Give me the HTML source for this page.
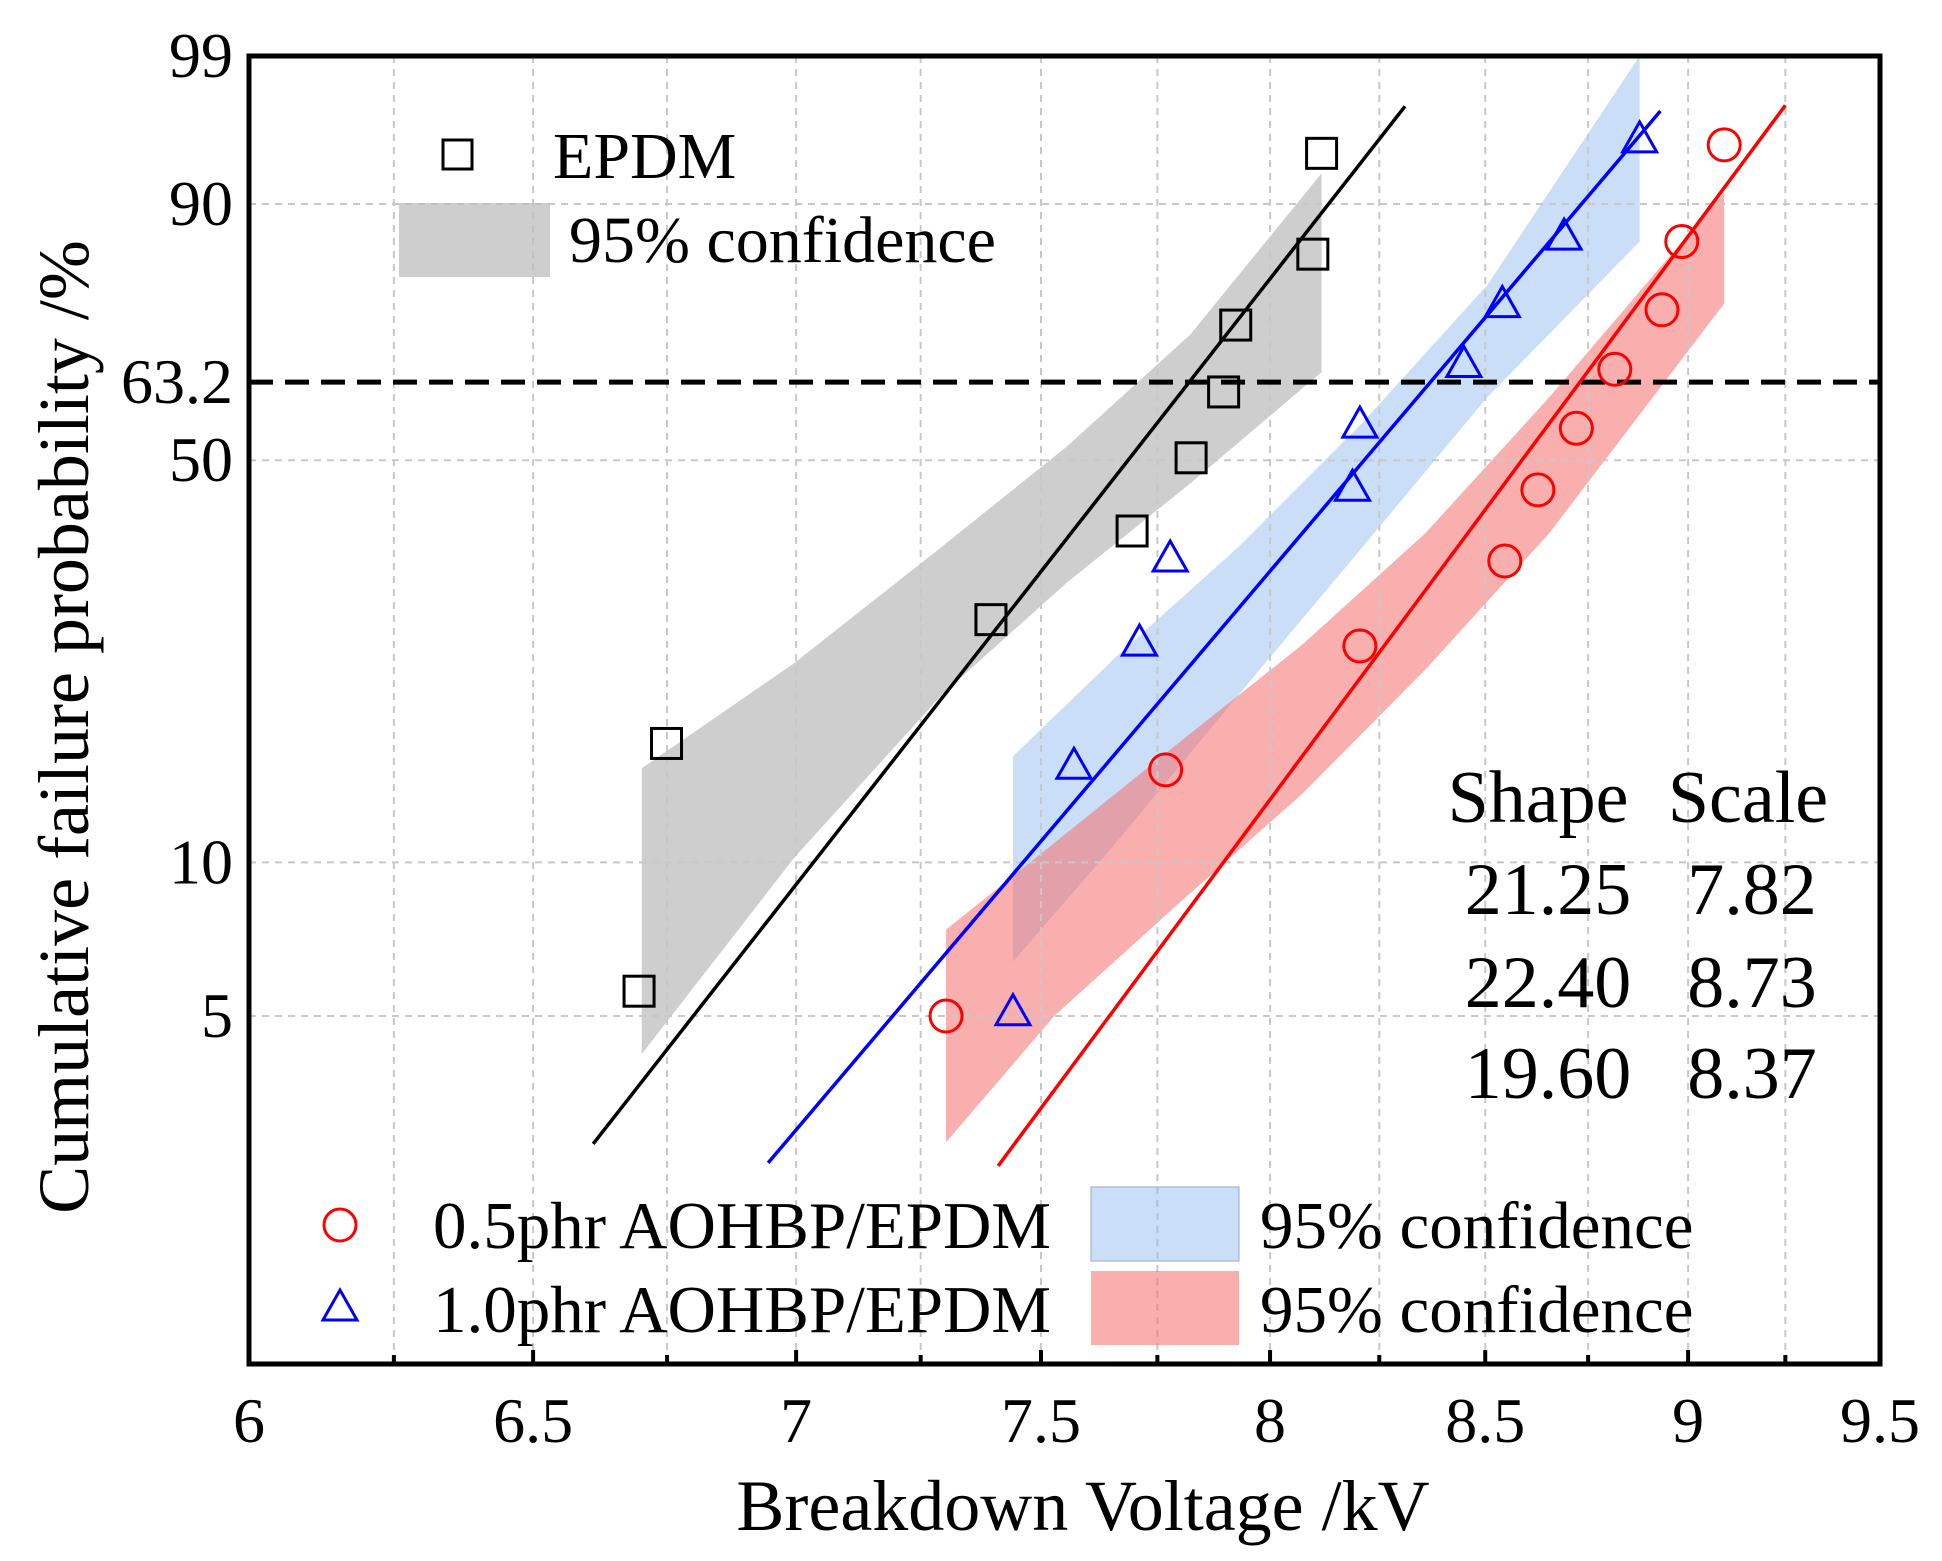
<!DOCTYPE html>
<html><head><meta charset="utf-8"><style>
html,body{margin:0;padding:0;background:#fff}
svg{display:block}
text{font-family:"Liberation Serif",serif;fill:#000}
</style></head><body>
<svg id="chart" width="1942" height="1561" viewBox="0 0 1942 1561" xmlns="http://www.w3.org/2000/svg">
<g id="bands"></g><g id="grid"></g><g id="lines"></g><g id="marks"></g><g id="axes"></g><g id="legend"></g>
</svg>
<script>
// ---- data ----
const xTicks = [6, 6.5, 7, 7.5, 8, 8.5, 9, 9.5];
const xTickLabels = ["6", "6.5", "7", "7.5", "8", "8.5", "9", "9.5"];
const yTicks = [5, 10, 50, 63.2, 90, 99];
const yTickLabels = ["5", "10", "50", "63.2", "90", "99"];
const epdmV = [6.697, 6.749, 7.395, 7.695, 7.824, 7.896, 7.923, 8.097, 8.117];
const epdmF = [5.6, 16.8, 28, 39.2, 50.4, 61.5, 72.9, 83.8, 94.6];
const p10V = [7.441, 7.570, 7.711, 7.778, 8.188, 8.205, 8.449, 8.541, 8.691, 8.878];
const p10F = [5.1, 15.3, 25.6, 35.5, 45.7, 56, 66.4, 76.4, 86.2, 95.6];
const p05V = [7.302, 7.768, 8.205, 8.547, 8.627, 8.721, 8.816, 8.934, 8.984, 9.092];
const p05F = [5.0, 15.0, 25.2, 35.1, 45.3, 55.3, 65.4, 75.4, 85.5, 95.2];
const fitShape = [21.25, 22.40, 19.60];
const fitScale = [7.82, 8.73, 8.37];
const fitVRange = [[6.611, 8.31], [7.41, 9.25], [6.945, 8.93]];
const grayBandV = [6.702, 6.996, 7.295, 7.554, 7.822, 8.117];
const grayBandUp = [15.1, 23.5, 37.1, 52.2, 71.3, 93.0];
const grayBandLo = [4.2, 10.2, 20.7, 32.3, 46.3, 64.9];
const blueBandV = [7.441, 7.66, 7.931, 8.213, 8.505, 8.878];
const blueBandUp = [15.9, 24.1, 37.1, 56.4, 79.3, 99.0];
const blueBandLo = [6.4, 10.9, 20.7, 37.1, 60.6, 85.5];
const redBandV = [7.302, 7.528, 7.795, 8.072, 8.358, 8.655, 9.092];
const redBandUp = [7.4, 10.9, 16.8, 25.3, 38.9, 60.6, 91.2];
const redBandLo = [2.8, 5.0, 8.3, 13.5, 22.9, 38.9, 76.4];

// ---- axes ----
const L=249, R=1880, T=56, B=1364;
const lx0=Math.log(6), lx1=Math.log(9.5);
const w=f=>Math.log(-Math.log(1-f/100));
const w0=w(1), w1=w(99);
const X=v=>L+(Math.log(v)-lx0)/(lx1-lx0)*(R-L);
const Y=f=>B-(w(f)-w0)/(w1-w0)*(B-T);
const YW=ww=>B-(ww-w0)/(w1-w0)*(B-T);
const NS="http://www.w3.org/2000/svg";
function mk(tag, parent, attrs){const e=document.createElementNS(NS,tag);for(const k in attrs)e.setAttribute(k,attrs[k]);document.getElementById(parent).appendChild(e);return e;}

// bands
function band(V,U,Lo,fill,name){
  let pts=V.map((v,i)=>X(v)+','+Y(U[i]));
  for(let i=V.length-1;i>=0;i--)pts.push(X(V[i])+','+Y(Lo[i]));
  const p=mk('polygon','bands',{points:pts.join(' '),fill:fill});
  
  
}
band(grayBandV,grayBandUp,grayBandLo,'rgba(190,190,190,0.75)','epdm-confidence-band');
band(blueBandV,blueBandUp,blueBandLo,'rgba(150,190,240,0.5)','p10-confidence-band');
band(redBandV,redBandUp,redBandLo,'rgba(245,110,110,0.55)','p05-confidence-band');

// grid
for(let v=6.25; v<9.5; v+=0.25){
  const g=mk('line','grid',{x1:X(v),x2:X(v),y1:T,y2:B,stroke:'#c8c8c8','stroke-width':2,'stroke-dasharray':'7,6'});
  
  
  const t=mk('line','grid',{x1:X(v),x2:X(v),y1:B,y2:B-(Math.abs(v*2-Math.round(v*2))<1e-6?14:9),stroke:'#000','stroke-width':4});
  
  
}
yTicks.forEach(f=>{ if(f===63.2||f===99) return;
  const g=mk('line','grid',{x1:L,x2:R,y1:Y(f),y2:Y(f),stroke:'#c8c8c8','stroke-width':2,'stroke-dasharray':'7,6'});
  
  
});
const ref=mk('line','grid',{x1:L,x2:R,y1:Y(63.2),y2:Y(63.2),stroke:'#000','stroke-width':5,'stroke-dasharray':'24,12'});



// fit lines
const fitColors=['#000','#f00','#00f'];
const fitNames=['epdm-fit-line','p05-fit-line','p10-fit-line'];
fitShape.forEach((b,i)=>{
  const [va,vb]=fitVRange[i];
  const ya=YW(b*(Math.log(va)-Math.log(fitScale[i]))), yb=YW(b*(Math.log(vb)-Math.log(fitScale[i])));
  const l=mk('line','lines',{x1:X(va),y1:ya,x2:X(vb),y2:yb,stroke:fitColors[i],'stroke-width':3.5});
  
  
});

// markers
epdmV.forEach((v,i)=>{const e=mk('rect','marks',{x:X(v)-15,y:Y(epdmF[i])-15,width:30,height:30,fill:'none',stroke:'#000','stroke-width':3});
  
  });
p05V.forEach((v,i)=>{const e=mk('circle','marks',{cx:X(v),cy:Y(p05F[i]),r:16,fill:'none',stroke:'#f00','stroke-width':3});
  
  });
p10V.forEach((v,i)=>{const x=X(v),y=Y(p10F[i]);const e=mk('polygon','marks',{points:`${x},${y-17} ${x-17},${y+13} ${x+17},${y+13}`,fill:'none',stroke:'#00f','stroke-width':3});
  
  });

// axes
const fr=mk('rect','axes',{x:L,y:T,width:R-L,height:B-T,fill:'none',stroke:'#000','stroke-width':5});


xTicks.forEach((v,i)=>{const t=mk('text','axes',{x:X(v),y:1442,'font-size':64,'text-anchor':'middle'});t.textContent=xTickLabels[i];
  
  });
yTicks.forEach((f,i)=>{const t=mk('text','axes',{x:233,y:Y(f)+21,'font-size':64,'text-anchor':'end'});t.textContent=yTickLabels[i];
  
  });
</script>
<svg style="position:absolute;left:0;top:0" width="1942" height="1561" viewBox="0 0 1942 1561" xmlns="http://www.w3.org/2000/svg">
<text x="1083" y="1530" font-size="72" text-anchor="middle">Breakdown Voltage /kV</text>
<text transform="translate(88,727) rotate(-90)" font-size="72" text-anchor="middle">Cumulative failure probability /%</text>
<g>
<rect x="443" y="140" width="29" height="29" fill="none" stroke="#000" stroke-width="3"/>
<text x="553" y="178" font-size="66">EPDM</text>
<rect x="399" y="203" width="151" height="74" fill="rgba(190,190,190,0.75)"/>
<text x="569" y="262" font-size="66">95% confidence</text>
</g>
<g>
<circle cx="340" cy="1225" r="16" fill="none" stroke="#f00" stroke-width="3"/>
<text x="433" y="1248" font-size="67">0.5phr AOHBP/EPDM</text>
<rect x="1091" y="1187" width="148" height="74" fill="rgba(150,190,240,0.5)" stroke="#9ab" stroke-width="1"/>
<text x="1260" y="1248" font-size="67">95% confidence</text>
<polygon points="340,1290 323,1320 357,1320" fill="none" stroke="#00f" stroke-width="3"/>
<text x="433" y="1332" font-size="67">1.0phr AOHBP/EPDM</text>
<rect x="1091" y="1271" width="148" height="74" fill="rgba(245,110,110,0.55)"/>
<text x="1260" y="1332" font-size="67">95% confidence</text>
</g>
<g font-size="74">
<text x="1538" y="822" text-anchor="middle" font-family="Liberation Serif">Shape</text>
<text x="1748" y="822" text-anchor="middle" font-family="Liberation Serif">Scale</text>
<text x="1548" y="914" text-anchor="middle" font-family="Liberation Serif">21.25</text>
<text x="1752" y="914" text-anchor="middle" font-family="Liberation Serif">7.82</text>
<text x="1548" y="1007" text-anchor="middle" font-family="Liberation Serif">22.40</text>
<text x="1752" y="1007" text-anchor="middle" font-family="Liberation Serif">8.73</text>
<text x="1548" y="1098" text-anchor="middle" font-family="Liberation Serif">19.60</text>
<text x="1752" y="1098" text-anchor="middle" font-family="Liberation Serif">8.37</text>
</g>
</svg>
</body></html>
